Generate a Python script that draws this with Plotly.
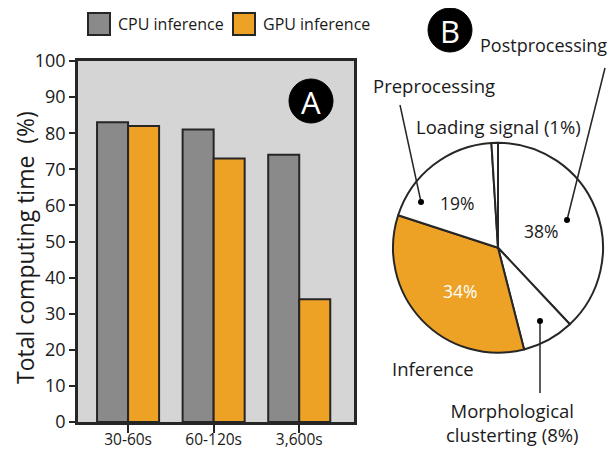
import plotly.graph_objects as go

# The page body adds an 8px margin, so the figure is 16px smaller than the
# window and all reference pixel positions are shifted by 8px.
OFF = 8
W, H = 616 - 2 * OFF, 457 - 2 * OFF

# ---- data ----
durations = ["30-60s", "60-120s", "3,600s"]
cpu_share = [83, 81, 74]
gpu_share = [82, 73, 34]
series_names = ["CPU inference", "GPU inference"]
y_ticks = [0, 10, 20, 30, 40, 50, 60, 70, 80, 90, 100]

stage_labels = ["Postprocessing", "Morphological clusterting", "Inference", "Preprocessing", "Loading signal"]
stage_share = [38, 8, 34, 19, 1]

CPU_C = "#8a8a8a"
GPU_C = "#eda125"
EDGE = "#262626"
FONT = "Open Sans"


def px(x):
    return (x - OFF) / W


def py(y):
    return 1 - (y - OFF) / H


fig = go.Figure()
fig.add_trace(go.Bar(x=durations, y=cpu_share, name=series_names[0],
                     marker=dict(color=CPU_C, line=dict(color=EDGE, width=2)),
                     xaxis="x", yaxis="y"))
fig.add_trace(go.Bar(x=durations, y=gpu_share, name=series_names[1],
                     marker=dict(color=GPU_C, line=dict(color=EDGE, width=2)),
                     xaxis="x", yaxis="y"))

fig.add_trace(go.Pie(labels=stage_labels, values=stage_share, sort=False,
                     direction="clockwise", rotation=0,
                     marker=dict(colors=["white", "white", GPU_C, "white", "white"],
                                 line=dict(color=EDGE, width=2)),
                     textinfo="none", hoverinfo="label+percent",
                     domain=dict(x=[px(393), px(603)], y=[py(353), py(142.5)]),
                     showlegend=False))

fig.update_layout(
    width=W, height=H,
    margin=dict(l=0, r=0, t=0, b=0, autoexpand=False),
    paper_bgcolor="white",
    plot_bgcolor="#d5d5d5",
    barmode="group", bargap=0.275, bargroupgap=0,
    showlegend=False,
    font=dict(family=FONT, color="#1a1a1a"),
    xaxis=dict(domain=[px(78), px(354)], range=[-0.585, 2.64], automargin=False,
               showline=True, linecolor=EDGE, linewidth=2.5, mirror=True,
               ticks="outside", ticklen=8, tickwidth=1.5, tickcolor=EDGE,
               ticklabelstandoff=-6,
               tickfont=dict(size=15.5), showgrid=False, zeroline=False),
    yaxis=dict(domain=[py(422), py(61)], range=[0, 100], automargin=False,
               tickvals=y_ticks,
               showline=True, linecolor=EDGE, linewidth=2.5, mirror=True,
               ticks="outside", ticklen=6, tickwidth=1.5, tickcolor=EDGE,
               ticklabelstandoff=0,
               tickfont=dict(size=18), showgrid=False, zeroline=False),
)

shapes = []
ann = []

# y-axis title
ann.append(dict(text="Total computing time  (%)", x=px(25), y=py(248), xref="paper", yref="paper",
                textangle=-90, xanchor="center", yanchor="middle", showarrow=False,
                font=dict(size=23)))

# legend (manual, to match large swatches)
for name, col, x0 in [(series_names[0], CPU_C, 88), (series_names[1], GPU_C, 233)]:
    shapes.append(dict(type="rect", xref="paper", yref="paper",
                       x0=px(x0), x1=px(x0 + 22), y0=py(35), y1=py(13),
                       fillcolor=col, line=dict(color=EDGE, width=2)))
    ann.append(dict(text=name, x=px(x0 + 28), y=py(24), xref="paper", yref="paper",
                    xanchor="left", yanchor="middle", showarrow=False,
                    font=dict(size=16)))

# panel badges
for letter, cx, cy in [("A", 311, 101), ("B", 450, 30)]:
    shapes.append(dict(type="circle", xref="paper", yref="paper",
                       x0=px(cx - 22), x1=px(cx + 22), y0=py(cy + 22), y1=py(cy - 22),
                       fillcolor="black", line=dict(color="black", width=1)))
    ann.append(dict(text=letter, x=px(cx), y=py(cy + 1), xref="paper", yref="paper",
                    xanchor="center", yanchor="middle", showarrow=False,
                    font=dict(size=31, color="white")))

# pie callouts
for (x0, y0, x1, y1) in [(605, 68, 567, 220), (400, 105, 421, 202), (540, 393, 540, 321)]:
    shapes.append(dict(type="line", xref="paper", yref="paper",
                       x0=px(x0), y0=py(y0), x1=px(x1), y1=py(y1),
                       line=dict(color=EDGE, width=1.5)))
    shapes.append(dict(type="circle", xref="paper", yref="paper",
                       x0=px(x1 - 3), x1=px(x1 + 3), y0=py(y1 + 3), y1=py(y1 - 3),
                       fillcolor="black", line=dict(color="black", width=0)))

LBL = 18.5
PCT = 17.5
texts = [
    (stage_labels[0], 543, 45, 18, "#1a1a1a"),
    (stage_labels[3], 434, 86, LBL, "#1a1a1a"),
    (f"{stage_labels[4]} ({stage_share[4]}%)", 498, 126, LBL, "#1a1a1a"),
    (f"{stage_share[3]}%", 457, 203, PCT, "#1a1a1a"),
    (f"{stage_share[0]}%", 541, 231, PCT, "#1a1a1a"),
    (f"{stage_share[2]}%", 460, 291, PCT, "white"),
    (stage_labels[2], 433, 368, LBL, "#1a1a1a"),
    ("Morphological<br>clusterting (" + f"{stage_share[1]}%)", 512, 422, LBL, "#1a1a1a"),
]
for t, x, y, s, c in texts:
    ann.append(dict(text=t, x=px(x), y=py(y), xref="paper", yref="paper",
                    xanchor="center", yanchor="middle", showarrow=False,
                    font=dict(size=s, color=c)))

fig.update_layout(shapes=shapes, annotations=ann)
fig.write_html("out.html")
